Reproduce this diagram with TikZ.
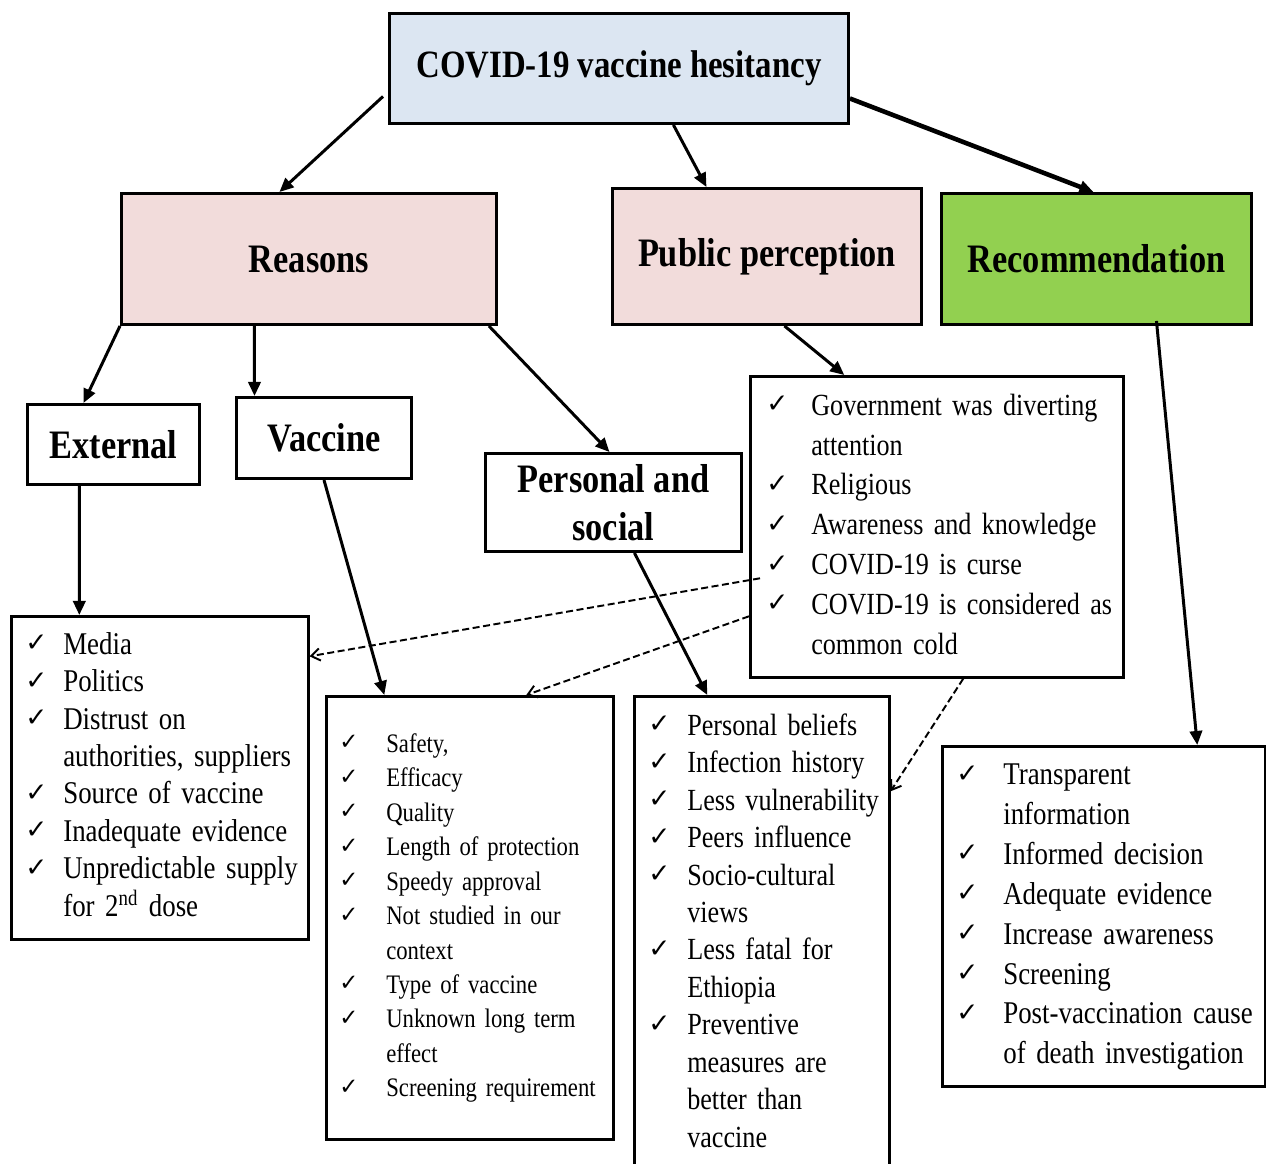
\documentclass[tikz,border=0pt]{standalone}
\usepackage{fontspec}
\setmainfont{Liberation Serif}[FakeStretch=0.85]
\newfontfamily\chkfont{DejaVu Sans}
\usepackage{xcolor}
\usetikzlibrary{arrows.meta,positioning}

\newcommand{\ck}{\raisebox{1.5pt}{\chkfont\fontsize{15}{15}\selectfont ✓}}
\newcommand{\cksm}{\raisebox{1.5pt}{\chkfont\fontsize{13}{13}\selectfont ✓}}

\begin{document}
\begin{tikzpicture}[x=0.02cm,y=-0.02cm,
  headbox/.style={draw, line width=1.7pt, anchor=north west, align=center, inner sep=0pt,
    font=\fontsize{23}{27}\selectfont\bfseries},
  listbox/.style={draw, line width=1.5pt, anchor=north west, align=left, inner ysep=0pt},
  arr/.style={-{Triangle[length=8pt,width=7pt]}, line width=1.7pt},
  dasharr/.style={-{Straight Barb[length=5pt,width=7pt]}, dash pattern=on 4pt off 2pt, line width=1.1pt}]
\definecolor{topblue}{HTML}{DCE6F2}
\definecolor{pinkbox}{HTML}{F2DCDB}
\definecolor{greenbox}{HTML}{92D050}
\useasboundingbox (0,0) rectangle (1266,1163);

% Top level
\node[headbox, fill=topblue, minimum width=9.18cm, minimum height=2.2cm,
  font=\fontsize{22}{26}\selectfont\bfseries] (top) at (388,12) {COVID-19 vaccine hesitancy};

% Second level
\node[headbox, fill=pinkbox, minimum width=7.5cm, minimum height=2.62cm] (reasons) at (120,192) {Reasons};
\node[headbox, fill=pinkbox, minimum width=6.18cm, minimum height=2.72cm] (pubper) at (611,187) {Public perception};
\node[headbox, fill=greenbox, minimum width=6.2cm, minimum height=2.62cm] (recom) at (940,192) {Recommendation};

% Kinds of reasons
\node[headbox, minimum width=3.44cm, minimum height=1.6cm] (external) at (26,403) {External};
\node[headbox, minimum width=3.5cm, minimum height=1.62cm] (vaccine) at (235,396) {Vaccine};
\node[headbox, minimum width=5.12cm, minimum height=1.96cm] (personal) at (484,452) {Personal and\\social};

% Lists
\node[listbox, inner xsep=0.32cm, text width=6.82cm, minimum height=6.02cm,
  font=\fontsize{17.5}{22.7}\selectfont] (pplist) at (749,375) {%
\begin{tabular}{@{}p{0.9cm}@{}l@{}}
\ck & Government was diverting\\
    & attention\\
\ck & Religious\\
\ck & Awareness and knowledge\\
\ck & COVID-19 is curse\\
\ck & COVID-19 is considered as\\
    & common cold
\end{tabular}};

\node[listbox, inner xsep=0.28cm, text width=5.38cm, minimum height=6.46cm,
  font=\fontsize{18}{21.3}\selectfont] (extlist) at (10,615) {%
\begin{tabular}{@{}p{0.76cm}@{}l@{}}
\ck & Media\\
\ck & Politics\\
\ck & Distrust on\\
    & authorities, suppliers\\
\ck & Source of vaccine\\
\ck & Inadequate evidence\\
\ck & Unpredictable supply\\
    & for 2\textsuperscript{nd} dose
\end{tabular}};

\node[listbox, inner xsep=0.26cm, text width=5.22cm, minimum height=8.86cm,
  font=\fontsize{15.2}{19.6}\selectfont] (vaclist) at (325,695) {%
\begin{tabular}{@{}p{0.94cm}@{}l@{}}
\cksm & Safety,\\
\cksm & Efficacy\\
\cksm & Quality\\
\cksm & Length of protection\\
\cksm & Speedy approval\\
\cksm & Not studied in our\\
      & context\\
\cksm & Type of vaccine\\
\cksm & Unknown long term\\
      & effect\\
\cksm & Screening requirement
\end{tabular}};

\node[listbox, inner xsep=0.28cm, text width=4.54cm, minimum height=9.5cm,
  font=\fontsize{17.5}{21.3}\selectfont] (perslist) at (633,695) {%
\begin{tabular}{@{}p{0.78cm}@{}l@{}}
\ck & Personal beliefs\\
\ck & Infection history\\
\ck & Less vulnerability\\
\ck & Peers influence\\
\ck & Socio-cultural\\
    & views\\
\ck & Less fatal for\\
    & Ethiopia\\
\ck & Preventive\\
    & measures are\\
    & better than\\
    & vaccine
\end{tabular}};

\node[listbox, inner xsep=0.28cm, text width=5.9cm, minimum height=6.8cm,
  font=\fontsize{18}{22.7}\selectfont] (reclist) at (941,745) {%
\begin{tabular}{@{}p{0.94cm}@{}l@{}}
\ck & Transparent\\
    & information\\
\ck & Informed decision\\
\ck & Adequate evidence\\
\ck & Increase awareness\\
\ck & Screening\\
\ck & \makebox[5.0cm][s]{Post-vaccination cause}\\
    & of death investigation
\end{tabular}};

% Solid connectors
\draw[arr] ([xshift=-0.1cm,yshift=-0.56cm]top.west) -- ([xshift=-0.59cm]reasons.north);
\draw[arr] ([xshift=1.09cm]top.south) -- ([xshift=-1.21cm]pubper.north);
\draw[arr, line width=2.6pt] ([yshift=-0.6cm]top.east) -- ([xshift=-0.06cm]recom.north);
\draw[arr] (reasons.south west) -- ([xshift=-0.6cm]external.north);
\draw[arr] ([xshift=-1.09cm]reasons.south) -- ([xshift=-1.39cm]vaccine.north);
\draw[arr] ([xshift=-0.18cm]reasons.south east) -- ([xshift=-0.08cm]personal.north);
\draw[arr] ([xshift=0.35cm]pubper.south) -- ([xshift=-1.85cm]pplist.north);
\draw[arr] ([xshift=1.2cm,yshift=0.1cm]recom.south) -- ([xshift=1.87cm]reclist.north);
\draw[arr] ([xshift=-0.68cm]external.south) -- ([xshift=-1.61cm]extlist.north);
\draw[arr] (vaccine.south) -- ([xshift=-1.71cm]vaclist.north);
\draw[arr] ([xshift=0.42cm]personal.south) -- ([xshift=-1.09cm]perslist.north);

% Dashed connectors from public perception
\draw[dasharr] ([xshift=0.22cm,yshift=-1.03cm]pplist.west) -- ([yshift=2.43cm]extlist.east);
\draw[dasharr] ([yshift=-1.79cm]pplist.west) -- ([xshift=1.13cm]vaclist.north);
\draw[dasharr] ([xshift=0.53cm]pplist.south) -- ([yshift=2.85cm]perslist.east);
\end{tikzpicture}
\end{document}
